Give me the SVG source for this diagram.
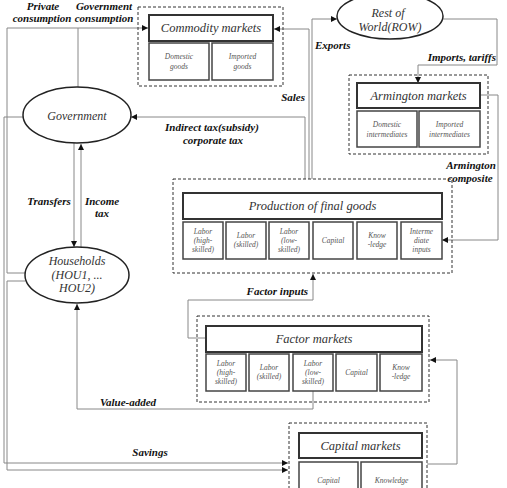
<svg xmlns="http://www.w3.org/2000/svg" width="507" height="488" viewBox="0 0 507 488">
<style>
.dash{fill:none;stroke:#333;stroke-width:1;stroke-dasharray:3,2}
.title{fill:#fff;stroke:#333;stroke-width:2}
.sub{fill:#fff;stroke:#444;stroke-width:1.5}
.ell{fill:#fff;stroke:#222;stroke-width:1.5}
.tt{font-family:"Liberation Serif",serif;font-style:italic;font-size:12.5px;fill:#333;text-anchor:middle}
.st{font-family:"Liberation Serif",serif;font-style:italic;font-size:7.5px;fill:#555;text-anchor:middle}
.et{font-family:"Liberation Serif",serif;font-style:italic;font-size:12px;fill:#333;text-anchor:middle}
.lb{font-family:"Liberation Serif",serif;font-style:italic;font-weight:bold;font-size:11px;fill:#111}
.c{fill:none;stroke:#888;stroke-width:1;marker-end:url(#ah)}
.cn{fill:none;stroke:#888;stroke-width:1}
</style>
<defs>
<marker id="ah" markerUnits="userSpaceOnUse" markerWidth="6" markerHeight="6" refX="6" refY="3" orient="auto">
<path d="M0,0 L6,3 L0,6 z" fill="#111"/>
</marker>
</defs>
<rect width="507" height="488" fill="#fff"/>

<g id="connectors">
<path class="c" d="M25,273 H7 V28 H148"/>
<path class="cn" d="M78,87 V28"/>
<path class="c" d="M23,117 H4 V463 H288"/>
<path class="c" d="M25,281 H7 V470 H288"/>
<path class="c" d="M74,143 V247"/>
<path class="c" d="M81,247 V144"/>
<path class="c" d="M305,179 V117 H131"/>
<path class="c" d="M309,179 V29 H274"/>
<path class="c" d="M312,179 V19 H337"/>
<path class="c" d="M443,19 H497 V65 H418 V83"/>
<path class="c" d="M480,95 H498 V240 H442"/>
<path class="c" d="M206,338 H188 V300 H313 V274"/>
<path class="c" d="M313,391 V409 H77 V304"/>
<path class="c" d="M427,464 H457 V360 H430"/>
</g>

<g id="labels">
<text class="lb" x="43" y="10" text-anchor="middle">Private</text>
<text class="lb" x="42" y="22" text-anchor="middle">consumption</text>
<text class="lb" x="104" y="10" text-anchor="middle">Government</text>
<text class="lb" x="104" y="22" text-anchor="middle">consumption</text>
<text class="lb" x="212" y="131" text-anchor="middle">Indirect tax(subsidy)</text>
<text class="lb" x="213" y="144" text-anchor="middle">corporate tax</text>
<text class="lb" x="305" y="101" text-anchor="end">Sales</text>
<text class="lb" x="315" y="49">Exports</text>
<text class="lb" x="496" y="61" text-anchor="end">Imports, tariffs</text>
<text class="lb" x="471" y="169" text-anchor="middle">Armington</text>
<text class="lb" x="470" y="182" text-anchor="middle">composite</text>
<text class="lb" x="49" y="205" text-anchor="middle">Transfers</text>
<text class="lb" x="102" y="205" text-anchor="middle">Income</text>
<text class="lb" x="102" y="217" text-anchor="middle">tax</text>
<text class="lb" x="308" y="295" text-anchor="end">Factor inputs</text>
<text class="lb" x="128" y="406" text-anchor="middle">Value-added</text>
<text class="lb" x="150" y="456" text-anchor="middle">Savings</text>
</g>

<g id="commodity-markets">
<rect class="dash" x="138" y="7" width="145" height="79"/>
<rect class="title" x="149" y="15" width="124" height="26"/>
<text class="tt" x="211" y="32">Commodity markets</text>
<rect class="sub" x="149" y="43" width="60" height="37"/>
<text class="st" x="179" y="59">Domestic</text>
<text class="st" x="179" y="69">goods</text>
<rect class="sub" x="212" y="43" width="61" height="37"/>
<text class="st" x="242.5" y="59">Imported</text>
<text class="st" x="242.5" y="69">goods</text>
</g>

<g id="rest-of-world">
<ellipse class="ell" cx="390" cy="16" rx="53" ry="23"/>
<text class="et" x="388" y="17">Rest of</text>
<text class="et" x="390" y="31">World(ROW)</text>
</g>

<g id="government">
<ellipse class="ell" cx="77" cy="115" rx="54" ry="28"/>
<text class="et" x="77" y="120">Government</text>
</g>

<g id="households">
<ellipse class="ell" cx="77" cy="275" rx="52" ry="28"/>
<text class="et" x="77" y="265">Households</text>
<text class="et" x="77" y="279">(HOU1, ...</text>
<text class="et" x="77" y="292">HOU2)</text>
</g>

<g id="armington-markets">
<rect class="dash" x="349" y="75" width="139" height="79"/>
<rect class="title" x="357" y="83" width="123" height="25"/>
<text class="tt" x="418.5" y="100">Armington markets</text>
<rect class="sub" x="357" y="111" width="60" height="36"/>
<text class="st" x="387" y="127">Domestic</text>
<text class="st" x="387" y="137">intermediates</text>
<rect class="sub" x="419" y="111" width="61" height="36"/>
<text class="st" x="449.5" y="127">Imported</text>
<text class="st" x="449.5" y="137">intermediates</text>
</g>

<g id="production">
<rect class="dash" x="173" y="179" width="279" height="94"/>
<rect class="title" x="183" y="193" width="259" height="26"/>
<text class="tt" x="312.5" y="210">Production of final goods</text>
<rect class="sub" x="183" y="222" width="40" height="37"/>
<text class="st" x="203" y="234">Labor</text>
<text class="st" x="203" y="243">(high-</text>
<text class="st" x="203" y="252">skilled)</text>
<rect class="sub" x="226" y="222" width="40" height="37"/>
<text class="st" x="246" y="238">Labor</text>
<text class="st" x="246" y="247">(skilled)</text>
<rect class="sub" x="269" y="222" width="40" height="37"/>
<text class="st" x="289" y="234">Labor</text>
<text class="st" x="289" y="243">(low-</text>
<text class="st" x="289" y="252">skilled)</text>
<rect class="sub" x="313" y="222" width="40" height="37"/>
<text class="st" x="333" y="243">Capital</text>
<rect class="sub" x="357" y="222" width="40" height="37"/>
<text class="st" x="377" y="238">Know</text>
<text class="st" x="377" y="247">-ledge</text>
<rect class="sub" x="401" y="222" width="41" height="37"/>
<text class="st" x="421.5" y="234">Interme</text>
<text class="st" x="421.5" y="243">diate</text>
<text class="st" x="421.5" y="252">inputs</text>
</g>

<g id="factor-markets">
<rect class="dash" x="197" y="316" width="232" height="86"/>
<rect class="title" x="206" y="326" width="216" height="26"/>
<text class="tt" x="314" y="343">Factor markets</text>
<rect class="sub" x="206" y="354" width="40" height="37"/>
<text class="st" x="226" y="366">Labor</text>
<text class="st" x="226" y="375">(high-</text>
<text class="st" x="226" y="384">skilled)</text>
<rect class="sub" x="249" y="354" width="40" height="37"/>
<text class="st" x="269" y="370">Labor</text>
<text class="st" x="269" y="379">(skilled)</text>
<rect class="sub" x="293" y="354" width="40" height="37"/>
<text class="st" x="313" y="366">Labor</text>
<text class="st" x="313" y="375">(low-</text>
<text class="st" x="313" y="384">skilled)</text>
<rect class="sub" x="336" y="354" width="41" height="37"/>
<text class="st" x="356.5" y="375">Capital</text>
<rect class="sub" x="380" y="354" width="42" height="37"/>
<text class="st" x="401" y="370">Know</text>
<text class="st" x="401" y="379">-ledge</text>
</g>

<g id="capital-markets">
<rect class="dash" x="289" y="423" width="138" height="80"/>
<rect class="title" x="299" y="433" width="123" height="25"/>
<text class="tt" x="360.5" y="450">Capital markets</text>
<rect class="sub" x="299" y="462" width="59" height="40"/>
<text class="st" x="328.5" y="483">Capital</text>
<rect class="sub" x="361" y="462" width="61" height="40"/>
<text class="st" x="391.5" y="483">Knowledge</text>
</g>
</svg>
